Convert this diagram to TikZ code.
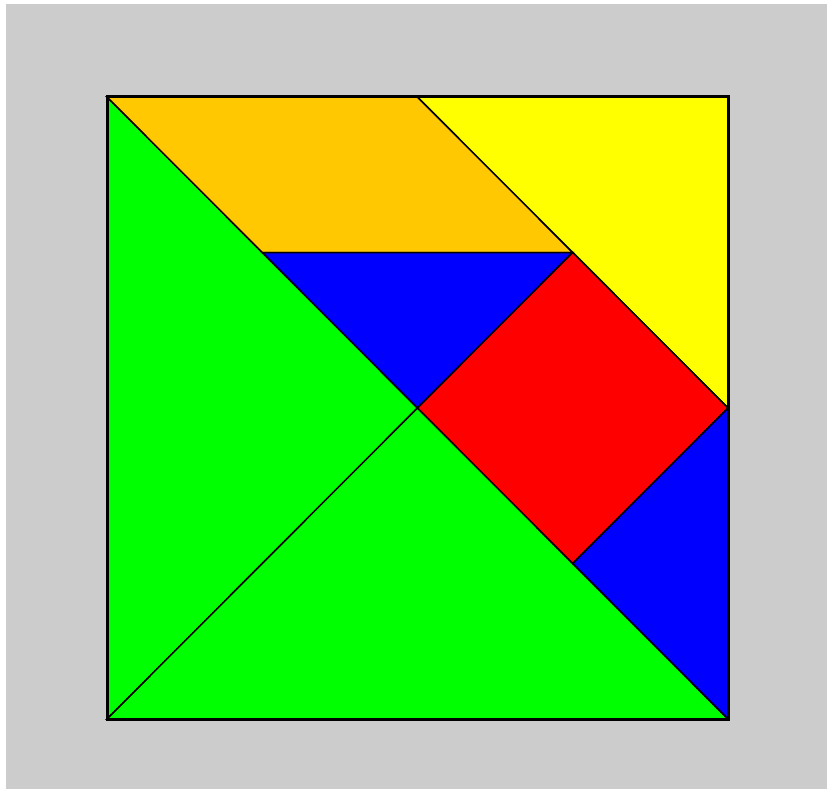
\documentclass[tikz,border=0pt]{standalone}
\definecolor{bg}{RGB}{204,204,204}
\definecolor{tgreen}{RGB}{0,255,0}
\definecolor{torange}{RGB}{255,200,0}
\definecolor{tyellow}{RGB}{255,255,0}
\definecolor{tblue}{RGB}{0,0,255}
\definecolor{tred}{RGB}{255,0,0}
\begin{document}
\begin{tikzpicture}[x=1pt,y=-1pt,
  piece/.style={draw=black,line width=1.5pt,line join=miter}]
\useasboundingbox (0,0) rectangle (827,789);
\fill[white] (0,0) rectangle (827,789);
\fill[bg] (6,4) rectangle (827,789);
\coordinate (TL) at (107,97);
\coordinate (TR) at (728,97);
\coordinate (BR) at (728,719);
\coordinate (BL) at (107,719);
\coordinate (C) at (417.5,408);
\coordinate (TM) at (417.5,97);
\coordinate (RM) at (728,408);
\coordinate (P) at (572.75,252.5);
\coordinate (Q) at (262.25,252.5);
\coordinate (S) at (572.75,563.5);
\filldraw[piece,fill=tgreen] (TL) -- (BL) -- (C) -- cycle;
\filldraw[piece,fill=tgreen] (BL) -- (BR) -- (C) -- cycle;
\filldraw[piece,fill=torange] (TL) -- (TM) -- (P) -- (Q) -- cycle;
\filldraw[piece,fill=tyellow] (TM) -- (TR) -- (RM) -- cycle;
\filldraw[piece,fill=tblue] (Q) -- (P) -- (C) -- cycle;
\filldraw[piece,fill=tred] (C) -- (P) -- (RM) -- (S) -- cycle;
\filldraw[piece,fill=tblue] (RM) -- (BR) -- (S) -- cycle;
\draw[line width=3pt] (TL) rectangle (BR);
\end{tikzpicture}
\end{document}
